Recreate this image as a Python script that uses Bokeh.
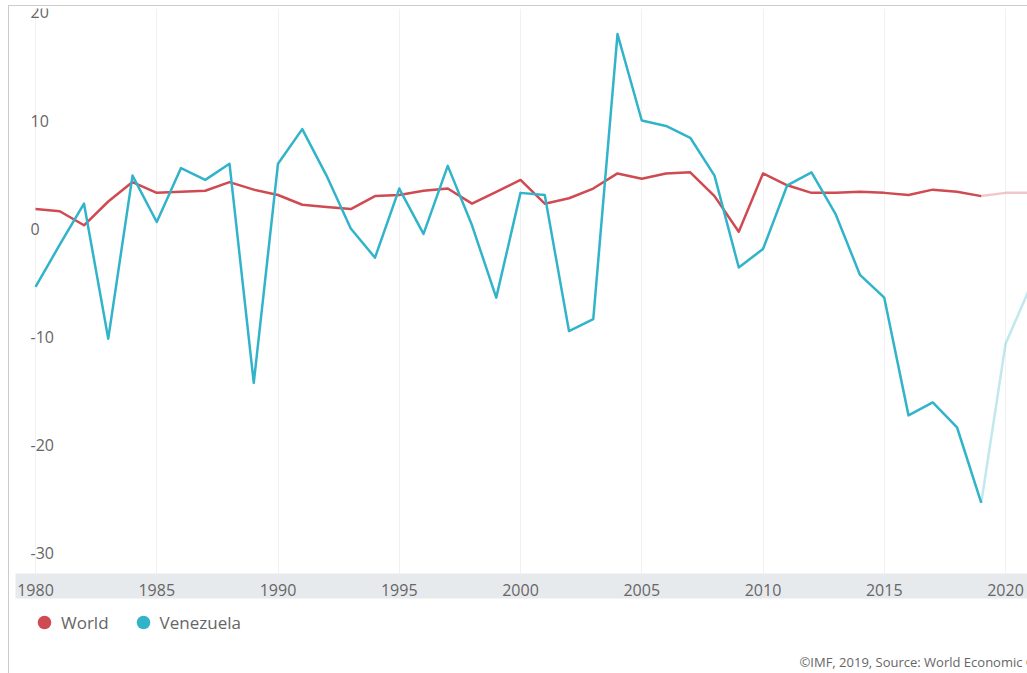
from bokeh.plotting import figure
from bokeh.layouts import column
from bokeh.models import Range1d, FixedTicker, Legend, LegendItem, Label
from bokeh.core.properties import value
from bokeh.embed import file_html
from bokeh.resources import INLINE

# ---------------- data ----------------
years = list(range(1980, 2022))
world = [1.8, 1.6, 0.3, 2.5, 4.3, 3.3, 3.4, 3.5, 4.3, 3.6,
         3.1, 2.2, 2.0, 1.8, 3.0, 3.1, 3.5, 3.7, 2.3, 3.4,
         4.5, 2.3, 2.8, 3.7, 5.1, 4.6, 5.1, 5.2, 3.0, -0.3,
         5.1, 4.0, 3.3, 3.3, 3.4, 3.3, 3.1, 3.6, 3.4, 3.0,
         3.3, 3.3]
venezuela = [-5.4, -1.5, 2.3, -10.2, 4.9, 0.6, 5.6, 4.5, 6.0, -14.3,
             6.0, 9.2, 4.9, 0.0, -2.7, 3.7, -0.5, 5.8, 0.3, -6.4,
             3.3, 3.1, -9.5, -8.4, 18.0, 10.0, 9.5, 8.4, 4.9, -3.6,
             -1.9, 4.0, 5.2, 1.3, -4.3, -6.4, -17.3, -16.1, -18.4, -25.4,
             -10.7, -5.5]
last_actual_year = 2019
series_names = ["World", "Venezuela"]
series_colors = ["#cf4a51", "#31b4c9"]
x_ticks = [1980, 1985, 1990, 1995, 2000, 2005, 2010, 2015, 2020]
y_ticks = [20, 10, 0, -10, -20, -30]
y_tick_labels = ["20", "10", "0", "-10", "-20", "-30"]
footer_text = "\u00a9IMF, 2019, Source: World Economic Outlook (October 2019)"

FONT = "Open Sans"
TEXT_COLOR = "#666666"

x_start, x_end = 1979.175, 2020.907
y_start, y_end = -31.94, 20.37

# ---------------- chart ----------------
p = figure(width=1018, height=594, output_backend="svg", toolbar_location=None,
           x_range=Range1d(x_start, x_end), y_range=Range1d(y_start, y_end),
           min_border_left=6, min_border_right=0, min_border_top=2, min_border_bottom=27)
p.outline_line_color = None
p.background_fill_color = "white"
p.border_fill_color = "white"

p.yaxis.visible = False
p.ygrid.visible = False
p.xgrid.ticker = FixedTicker(ticks=x_ticks)
p.xgrid.grid_line_color = "#f1f1f1"
p.xgrid.grid_line_width = 1

xa = p.xaxis[0]
xa.ticker = FixedTicker(ticks=x_ticks)
xa.axis_line_color = None
xa.major_tick_line_color = None
xa.minor_tick_line_color = None
xa.major_label_standoff = 4
xa.major_label_text_font = FONT
xa.major_label_text_font_size = "16px"
xa.major_label_text_color = TEXT_COLOR
xa.background_fill_color = "#e7eaed"

# y tick labels inside the plot area
p.text(x=[x_start] * len(y_ticks), y=y_ticks, text=y_tick_labels, x_offset=15,
       text_align="left", text_baseline="middle", text_font=value(FONT),
       text_font_size="16px", text_color=TEXT_COLOR)

split = years.index(last_actual_year)
for name, vals, color in zip(series_names, [world, venezuela], series_colors):
    p.line(years[:split + 1], vals[:split + 1], line_color=color, line_width=2.5,
           line_join="round")
    p.line(years[split:], vals[split:], line_color=color, line_width=2.5,
           line_alpha=0.3, line_join="round")

# ---------------- legend + source strip ----------------
q = figure(width=1018, height=73, output_backend="svg", toolbar_location=None,
           x_range=p.x_range, y_range=p.y_range,
           min_border_left=0, min_border_right=0, min_border_top=0, min_border_bottom=0)
q.outline_line_color = None
q.axis.visible = False
q.grid.visible = False
q.background_fill_color = "white"
q.border_fill_color = "white"

legend_items = []
for name, vals, color in zip(series_names, [world, venezuela], series_colors):
    dot = q.scatter(years, vals, size=0, fill_color=color, line_color=None)
    legend_items.append(LegendItem(label=name, renderers=[dot]))

legend = Legend(items=legend_items, orientation="horizontal", location=(12, 33),
                glyph_width=34, glyph_height=36, label_standoff=0, spacing=17,
                padding=0, margin=0, border_line_color=None,
                background_fill_alpha=0,
                label_text_font=FONT, label_text_font_size="17px",
                label_text_color=TEXT_COLOR)
q.add_layout(legend)

q.add_layout(Label(x=784, y=12, x_units="screen", y_units="screen", text=footer_text,
                   text_font=FONT, text_font_size="13px", text_color="#666666",
                   text_baseline="middle"))

layout = column(p, q, spacing=0,
                styles={"margin-left": "8px", "margin-top": "5px",
                        "border-left": "1px solid #cccccc",
                        "border-top": "1px solid #cccccc"})

open("out.html", "w").write(file_html(layout, INLINE))
